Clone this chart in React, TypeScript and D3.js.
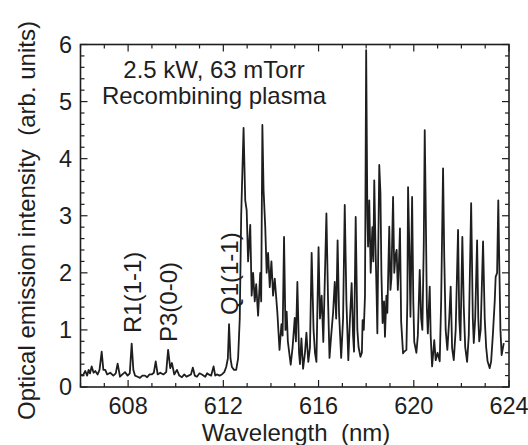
import React from "react";
import * as d3 from "d3";

// Spectrum, low-intensity part (nm, arb. units)
const lowWavelength = [
  606.02, 606.1, 606.2, 606.28, 606.34, 606.4, 606.47, 606.55, 606.62, 606.72, 606.8, 606.89, 606.96, 607.04,
  607.12, 607.25, 607.38, 607.48, 607.56, 607.66, 607.76, 607.87, 607.98, 608.07, 608.15, 608.22, 608.29, 608.4,
  608.5, 608.6, 608.71, 608.8, 608.9, 608.99, 609.08, 609.16, 609.24, 609.35, 609.48, 609.6, 609.68, 609.77,
  609.84, 609.94, 610.05, 610.15, 610.26, 610.36, 610.45, 610.54, 610.64, 610.72, 610.8, 610.89, 611.0, 611.1,
  611.24, 611.32, 611.38, 611.49, 611.59, 611.66, 611.73, 611.84, 611.94, 612.04, 612.12, 612.19, 612.24, 612.3,
  612.36, 612.45, 612.54, 612.62, 612.69, 612.75,
];
const lowIntensity = [
  0.22, 0.2, 0.28, 0.2, 0.3, 0.24, 0.36, 0.25, 0.28, 0.22, 0.3, 0.62, 0.3, 0.3,
  0.22, 0.25, 0.2, 0.24, 0.41, 0.18, 0.22, 0.26, 0.2, 0.24, 0.76, 0.3, 0.2, 0.18,
  0.16, 0.2, 0.2, 0.17, 0.22, 0.22, 0.25, 0.45, 0.22, 0.25, 0.22, 0.26, 0.65, 0.33,
  0.42, 0.22, 0.3, 0.2, 0.17, 0.22, 0.18, 0.2, 0.22, 0.34, 0.2, 0.18, 0.24, 0.22,
  0.18, 0.24, 0.22, 0.2, 0.36, 0.2, 0.22, 0.2, 0.22, 0.26, 0.35, 0.5, 1.1, 0.5,
  0.35, 0.3, 0.3, 0.5, 1.2, 3.0,
];

// Spectrum, dense Fulcher band part
const denseWavelength = [
  612.85, 612.92, 612.98, 613.04, 613.13, 613.19, 613.25, 613.32, 613.38, 613.46, 613.55, 613.59, 613.64, 613.69,
  613.76, 613.82, 613.88, 613.95, 614.02, 614.09, 614.16, 614.27, 614.36, 614.44, 614.49, 614.55, 614.61, 614.66,
  614.71, 614.83, 614.91, 615.0, 615.05, 615.11, 615.18, 615.22, 615.28, 615.35, 615.43, 615.49, 615.57, 615.64,
  615.71, 615.79, 615.85, 615.91, 616.0, 616.06, 616.13, 616.2, 616.33, 616.4, 616.46, 616.53, 616.61, 616.68,
  616.74, 616.8, 616.86, 616.95, 617.03, 617.1, 617.17, 617.25, 617.32, 617.39, 617.45, 617.49, 617.56, 617.63,
  617.68, 617.76, 617.82, 617.85, 617.9, 617.95, 618.0, 618.05, 618.08, 618.13, 618.19, 618.26, 618.3, 618.34,
  618.39, 618.44, 618.47, 618.51, 618.55, 618.6, 618.64, 618.69, 618.75, 618.79, 618.85, 618.89, 618.97, 619.02,
  619.06, 619.13, 619.18, 619.23, 619.28, 619.33, 619.38, 619.42, 619.47, 619.55, 619.6, 619.69, 619.73, 619.76,
  619.81, 619.86, 619.93, 619.98, 620.02, 620.11, 620.17, 620.25, 620.31, 620.36, 620.42, 620.46, 620.5, 620.55,
  620.59, 620.67, 620.71, 620.77, 620.86, 620.92, 621.0, 621.09, 621.15, 621.23, 621.28, 621.34, 621.41, 621.49,
  621.55, 621.61, 621.68, 621.76, 621.86, 621.91, 621.96, 622.04, 622.1, 622.16, 622.24, 622.31, 622.41, 622.48,
  622.52, 622.58, 622.66, 622.71, 622.75, 622.81, 622.91, 622.98, 623.04, 623.1, 623.19, 623.25, 623.32, 623.4,
  623.44, 623.5, 623.55, 623.59, 623.64, 623.69, 623.73, 623.78,
];
const denseIntensity = [
  4.54, 3.27, 3.1, 2.2, 2.84, 1.6, 2.0, 1.5, 1.8, 1.25, 2.0, 1.5, 4.59, 3.45,
  2.81, 2.0, 2.35, 1.75, 2.2, 1.6, 1.9, 1.3, 0.65, 1.1, 0.9, 2.63, 1.0, 1.32,
  0.8, 0.39, 0.7, 1.21, 0.8, 1.84, 0.6, 0.4, 0.85, 0.32, 0.6, 0.95, 0.44, 0.7,
  2.35, 1.0, 0.6, 0.44, 2.45, 1.2, 1.6, 0.79, 3.04, 1.5, 0.51, 0.9, 1.3, 1.84,
  1.2, 2.57, 1.3, 0.51, 1.2, 3.19, 1.5, 0.47, 1.2, 1.82, 0.9, 0.62, 2.98, 1.0,
  0.7, 0.53, 0.6, 1.17, 1.0, 1.6, 5.9, 3.0, 2.46, 3.27, 2.0, 2.8, 2.2, 3.62,
  2.5, 1.6, 0.94, 2.5, 3.89, 3.4, 2.0, 1.12, 1.5, 0.88, 1.6, 1.3, 2.81, 1.7,
  1.9, 3.33, 2.0, 2.3, 2.4, 1.7, 2.2, 2.78, 1.14, 0.59, 0.62, 0.65, 1.5, 3.5,
  2.5, 1.23, 3.33, 1.5, 0.79, 0.6, 0.9, 2.05, 1.2, 1.0, 2.5, 4.5, 3.2, 1.38,
  0.94, 1.76, 0.9, 0.36, 0.82, 0.47, 0.6, 0.45, 1.5, 3.83, 2.28, 1.0, 0.65, 1.2,
  1.76, 0.68, 0.47, 1.0, 2.75, 1.2, 0.82, 2.63, 1.4, 0.7, 0.44, 0.9, 3.22, 1.2,
  0.77, 1.2, 2.57, 1.2, 0.8, 1.0, 2.55, 1.2, 0.7, 0.45, 0.33, 0.45, 0.9, 1.5,
  1.93, 2.0, 3.27, 2.2, 1.0, 0.56, 0.65, 0.77,
];

const xMajorTicks = [608, 612, 616, 620, 624];
const xMinorTicks = d3.range(606, 624.001, 1);
const yMajorTicks = [0, 1, 2, 3, 4, 5, 6];
const yMinorTicks = d3.range(0, 6.001, 0.2);

const lineLabels = [
  { text: "R1(1-1)", x: 608.2, bottom: 333 },
  { text: "P3(0-0)", x: 609.7, bottom: 342 },
  { text: "Q1(1-1)", x: 612.25, bottom: 315 },
];

const noteLines = ["2.5 kW, 63 mTorr", "Recombining plasma"];

const W = 528;
const H = 445;
const left = 80.5;
const right = 509;
const top = 44.5;
const bottom = 387;
const ink = "#1e1e1e";
const font = "'Liberation Sans', Arial, sans-serif";

export default function App() {
  const x = d3.scaleLinear().domain([606, 624]).range([left, right]);
  const y = d3.scaleLinear().domain([0, 6]).range([bottom, top]);

  const pts: [number, number][] = [];
  lowWavelength.forEach((w, i) => pts.push([w, lowIntensity[i]]));
  denseWavelength.forEach((w, i) => pts.push([w, denseIntensity[i]]));

  const line = d3
    .line<[number, number]>()
    .x((d) => x(d[0]))
    .y((d) => y(d[1]));

  const majLen = 7;
  const minLen = 4;

  return (
    <svg
      width={W}
      height={H}
      style={{ position: "absolute", left: 0, top: 0, background: "#fff" }}
      fontFamily={font}
    >
      <rect x={0} y={0} width={W} height={H} fill="#fff" />
      <clipPath id="plot">
        <rect x={left} y={top - 2} width={right - left} height={bottom - top + 2} />
      </clipPath>
      <path
        d={line(pts) || ""}
        fill="none"
        stroke={ink}
        strokeWidth={1.8}
        strokeLinejoin="round"
        clipPath="url(#plot)"
      />

      {/* ticks */}
      <g stroke={ink} strokeWidth={1.2}>
        {xMinorTicks.map((t) => {
          const len = xMajorTicks.includes(t) ? majLen : minLen;
          return (
            <g key={"xt" + t}>
              <line x1={x(t)} x2={x(t)} y1={bottom} y2={bottom - len} />
              <line x1={x(t)} x2={x(t)} y1={top} y2={top + len} />
            </g>
          );
        })}
        {yMinorTicks.map((t) => {
          const major = Math.abs(t - Math.round(t)) < 1e-6;
          const len = major ? majLen : minLen;
          return (
            <g key={"yt" + t}>
              <line x1={left} x2={left + len} y1={y(t)} y2={y(t)} />
              <line x1={right} x2={right - len} y1={y(t)} y2={y(t)} />
            </g>
          );
        })}
      </g>
      <rect
        x={left}
        y={top}
        width={right - left}
        height={bottom - top}
        fill="none"
        stroke={ink}
        strokeWidth={1.6}
      />

      {/* tick labels */}
      {xMajorTicks.map((t) => (
        <text key={"xl" + t} x={x(t)} y={413.5} fontSize={23.5} textAnchor="middle" fill={ink}>
          {t}
        </text>
      ))}
      {yMajorTicks.map((t) => (
        <text
          key={"yl" + t}
          x={72}
          y={y(t)}
          dy="0.35em"
          fontSize={23.5}
          textAnchor="end"
          fill={ink}
        >
          {t}
        </text>
      ))}

      {/* axis titles */}
      <text x={296} y={440.5} fontSize={24} textAnchor="middle" fill={ink} style={{ whiteSpace: "pre" }}>
        {"Wavelength  (nm)"}
      </text>
      <text
        transform={`translate(27, ${(428 + 13) / 2}) rotate(-90)`}
        dy="0.35em"
        fontSize={24}
        textAnchor="middle"
        fill={ink}
        style={{ whiteSpace: "pre" }}
      >
        {"Optical emission intensity  (arb. units)"}
      </text>

      {/* annotations */}
      {noteLines.map((s, i) => (
        <text key={s} x={214} y={78 + i * 26} fontSize={24} textAnchor="middle" fill={ink}>
          {s}
        </text>
      ))}
      {lineLabels.map((l) => (
        <text
          key={l.text}
          transform={`translate(${x(l.x)}, ${l.bottom}) rotate(-90)`}
          dy="0.35em"
          fontSize={24}
          textAnchor="start"
          fill={ink}
        >
          {l.text}
        </text>
      ))}
    </svg>
  );
}
